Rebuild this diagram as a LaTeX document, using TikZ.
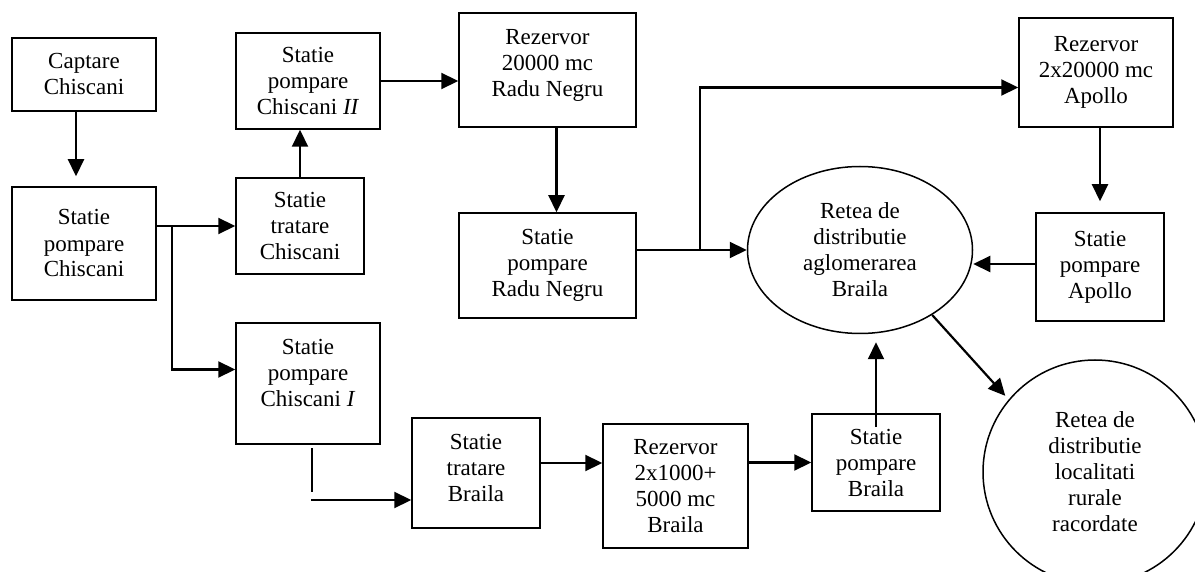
\documentclass[tikz,border=0pt]{standalone}
\usepackage{fontspec}
\setmainfont{Liberation Serif}
\usepackage{tikz}
\usetikzlibrary{arrows.meta,shapes.geometric}

\begin{document}
\begin{tikzpicture}[x=0.5pt,y=-0.5pt,
	box/.style={draw,line width=0.75pt,align=center,inner sep=0pt,font=\fontsize{11.5}{13}\selectfont},
	netell/.style={box,ellipse},
	netcirc/.style={box,circle,minimum size=112pt},
	flow/.style={line width=1.1pt,-{Triangle[length=8.5pt,width=8pt]}},
	plain/.style={line width=1.1pt}]
	\useasboundingbox (0,0) rectangle (1195,572);
	\node[box,minimum width=72pt,minimum height=36.5pt] (capt) at (84,74.5) {Captare\\Chiscani};
	\node[box,minimum width=72pt,minimum height=56.5pt] (spc) at (84,243.5) {Statie\\pompare\\Chiscani};
	\node[box,minimum width=64pt,minimum height=48pt] (stc) at (300,226) {Statie\\tratare\\Chiscani};
	\node[box,minimum width=72pt,minimum height=48pt] (spc2) at (308,81) {Statie\\pompare\\Chiscani \textit{II}};
	\node[box,minimum width=72pt,minimum height=60.5pt] (spc1) at (308,383.5) {Statie\\pompare\\Chiscani \textit{I}\\[-2.5pt]};
	\node[box,minimum width=88.5pt,minimum height=57pt] (rrn) at (547.5,70) {Rezervor\\20000 mc\\Radu Negru\\[-6pt]};
	\node[box,minimum width=88.5pt,minimum height=52.5pt] (sprn) at (547.5,265.5) {Statie\\pompare\\Radu Negru};
	\node[box,minimum width=64pt,minimum height=55pt] (stb) at (476,473) {Statie\\tratare\\Braila\\[-8pt]};
	\node[box,minimum width=72.5pt,minimum height=62pt] (rb) at (675.5,486) {Rezervor\\2x1000+\\5000 mc\\Braila};
	\node[box,minimum width=64pt,minimum height=48.5pt] (spb) at (876,462.5) {Statie\\pompare\\Braila};
	\node[netell,minimum width=112.5pt,minimum height=83.5pt] (rag) at (860,250) {Retea de\\distributie\\aglomerarea\\Braila};
	\node[box,minimum width=77pt,minimum height=54.5pt] (ra) at (1096,72.5) {Rezervor\\2x20000 mc\\Apollo};
	\node[box,minimum width=64pt,minimum height=54pt] (spa) at (1100,267) {Statie\\pompare\\Apollo};
	\node[netcirc] (rrur) at (1095,472) {Retea de\\distributie\\localitati\\rurale\\racordate};
	\coordinate (br1) at (172,226);
	\coordinate (br2) at (700,250);
	\coordinate (br3) at (312,448);
	\coordinate (br4) at (312,492);
	\coordinate (br5) at (311,500);
	\draw[flow,shorten >=5pt] ([xshift=-4pt]capt.south) -- ([xshift=-4pt]spc.north);
	\draw[flow] (spc.east |- stc.west) -- (stc.west);
	\draw[flow] (br1) |- ([yshift=7pt]spc1.west);
	\draw[flow] (stc.north) -- (stc.north |- spc2.south);
	\draw[flow] (spc2.east) -- (spc2.east -| rrn.west);
	\draw[flow] ([xshift=4.5pt]rrn.south) -- ([xshift=4.5pt]sprn.north);
	\draw[flow] (sprn.east |- rag.west) -- (rag.west);
	\draw[flow] (br2) |- ([yshift=-7.5pt]ra.west);
	\draw[flow,shorten >=5.5pt] ([xshift=2pt]ra.south) -- (spa.north);
	\draw[flow] ([yshift=1.5pt]spa.west) -- ([yshift=-7pt]rag.east);
	\draw[plain] (br3) -- (br4);
	\draw[flow] (br5) -- (br5 -| stb.west);
	\draw[flow] ([yshift=5pt]stb.east) -- ([yshift=11.5pt]rb.west);
	\draw[flow] (rb.east |- spb.west) -- (spb.west);
	\draw[flow,shorten >=4pt] ([yshift=-7pt]spb.north) -- (spb.north |- rag.south);
	\draw[flow,shorten >=2.5pt] (rag.-42) -- (rrur.140);
\end{tikzpicture}
\end{document}
